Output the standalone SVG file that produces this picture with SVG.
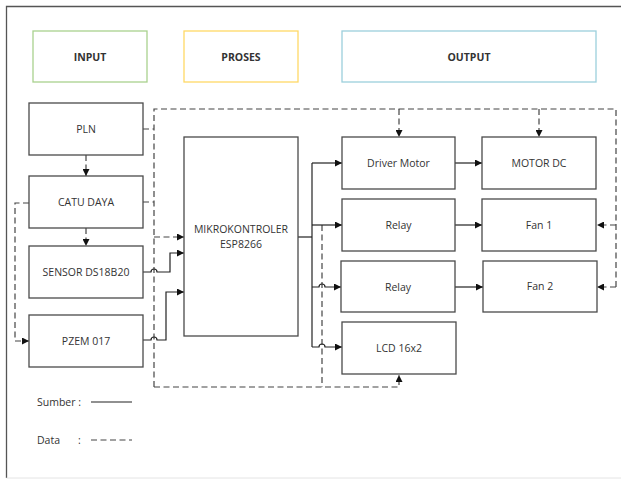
<svg xmlns="http://www.w3.org/2000/svg" width="621" height="482" viewBox="0 0 621 482">
<defs>
<marker id="ah" viewBox="0 0 10 10" refX="10" refY="5" markerWidth="7" markerHeight="7" markerUnits="userSpaceOnUse" orient="auto">
<path d="M0,0 L10,5 L0,10 z" fill="#111"/>
</marker>
</defs>
<style>
.box{fill:#fff;stroke:#4a4a4a;stroke-width:1.3}
.t{font-family:"Open Sans","Noto Sans",sans-serif;font-size:10.5px;fill:#333;text-anchor:middle;dominant-baseline:central}
.h{font-family:"Open Sans","Noto Sans",sans-serif;font-size:10.5px;font-weight:bold;fill:#333;text-anchor:middle;dominant-baseline:central}
.s{fill:none;stroke:#222;stroke-width:1.2}
.d{fill:none;stroke:#444;stroke-width:1.2;stroke-dasharray:6 3.5}
.l{font-family:"Open Sans","Noto Sans",sans-serif;font-size:10.5px;fill:#333;dominant-baseline:central}
</style>
<rect width="621" height="482" fill="#fff"/>
<path d="M6.5,478 V6.5 H621" fill="none" stroke="#555" stroke-width="1.3"/>
<path d="M6.5,478 H621" fill="none" stroke="#e4e4e4" stroke-width="1"/>

<g id="input"><rect x="33" y="31" width="114" height="51" fill="#fff" stroke="#a9d18e" stroke-width="1.3"/><text class="h" x="90" y="57">INPUT</text></g>
<g id="proses"><rect x="184" y="31" width="114" height="51" fill="#fff" stroke="#ffd966" stroke-width="1.3"/><text class="h" x="241" y="57">PROSES</text></g>
<g id="output"><rect x="342" y="31" width="254" height="51" fill="#fff" stroke="#9ccfdc" stroke-width="1.3"/><text class="h" x="469" y="57">OUTPUT</text></g>

<g id="connectors">
<!-- big dashed power frame -->
<path class="d" d="M154,387 V109 H616 V287"/>
<path class="d" d="M154,387 H399 V375" marker-end="url(#ah)"/>
<path class="d" d="M143,129 H154"/>
<path class="d" d="M143,202 H154"/>
<path class="d" d="M399,109 V137" marker-end="url(#ah)"/>
<path class="d" d="M539,109 V137" marker-end="url(#ah)"/>
<path class="d" d="M616,225 H597" marker-end="url(#ah)"/>
<path class="d" d="M616,287 H597" marker-end="url(#ah)"/>
<path class="d" d="M154,237 H184" marker-end="url(#ah)"/>
<path class="d" d="M322,225 V387"/>
<path class="d" d="M86,155 V176" marker-end="url(#ah)"/>
<path class="d" d="M86,228 V246" marker-end="url(#ah)"/>
<path class="d" d="M29,203 H15 V341 H29" marker-end="url(#ah)"/>
<!-- solid -->
<path class="s" d="M143,272 H151 A3,3 0 0 1 157,272 H170 V253 H184" marker-end="url(#ah)"/>
<path class="s" d="M143,340 H151 A3,3 0 0 1 157,340 H166 V292 H184" marker-end="url(#ah)"/>
<path class="s" d="M298,237 H312"/>
<path class="s" d="M312,163 V347"/>
<path class="s" d="M312,163 H342" marker-end="url(#ah)"/>
<path class="s" d="M312,225 H342" marker-end="url(#ah)"/>
<path class="s" d="M312,287 H319 A3,3 0 0 1 325,287 H341" marker-end="url(#ah)"/>
<path class="s" d="M312,347 H319 A3,3 0 0 1 325,347 H342" marker-end="url(#ah)"/>
<path class="s" d="M455,163 H482" marker-end="url(#ah)"/>
<path class="s" d="M455,225 H482" marker-end="url(#ah)"/>
<path class="s" d="M455,287 H483" marker-end="url(#ah)"/>
</g>

<g id="pln"><rect class="box" x="29" y="103" width="114" height="52"/><text class="t" x="86" y="129">PLN</text></g>
<g id="catudaya"><rect class="box" x="29" y="176" width="114" height="52"/><text class="t" x="86" y="202">CATU DAYA</text></g>
<g id="sensor"><rect class="box" x="29" y="246" width="114" height="52"/><text class="t" x="86" y="272">SENSOR DS18B20</text></g>
<g id="pzem"><rect class="box" x="29" y="315" width="114" height="52"/><text class="t" x="86" y="341">PZEM 017</text></g>
<g id="mikro"><rect class="box" x="184" y="137" width="114" height="199"/><text class="t" x="241" y="229">MIKROKONTROLER</text><text class="t" x="241" y="244">ESP8266</text></g>
<g id="driver"><rect class="box" x="342" y="137" width="113" height="52"/><text class="t" x="398.5" y="163">Driver Motor</text></g>
<g id="motordc"><rect class="box" x="482" y="137" width="114" height="52"/><text class="t" x="539" y="163">MOTOR DC</text></g>
<g id="relay1"><rect class="box" x="342" y="199" width="113" height="52"/><text class="t" x="398.5" y="225">Relay</text></g>
<g id="fan1"><rect class="box" x="482" y="199" width="114" height="52"/><text class="t" x="539" y="225">Fan 1</text></g>
<g id="relay2"><rect class="box" x="341" y="261" width="114" height="51"/><text class="t" x="398" y="287">Relay</text></g>
<g id="fan2"><rect class="box" x="483" y="261" width="114" height="51"/><text class="t" x="540" y="286">Fan 2</text></g>
<g id="lcd"><rect class="box" x="342" y="322" width="114" height="52"/><text class="t" x="399" y="348">LCD 16x2</text></g>

<g id="legend">
<text class="l" x="37" y="402">Sumber :</text>
<path class="s" d="M91,402 H132" stroke="#333"/>
<text class="l" x="37" y="440">Data</text>
<text class="l" x="78" y="440">:</text>
<path class="d" d="M91,440 H132"/>
</g>
</svg>
